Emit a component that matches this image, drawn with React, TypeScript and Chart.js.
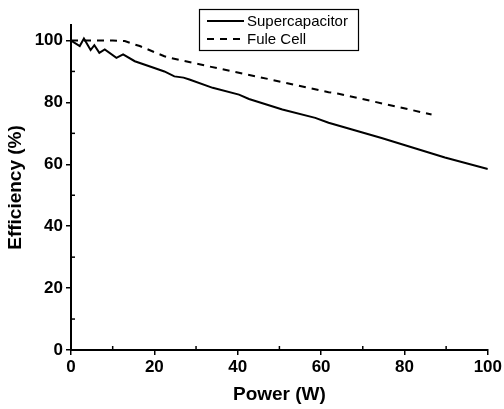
import React, { useEffect, useRef } from "react";
import { Chart, registerables } from "chart.js";

Chart.register(...registerables);

const superPower = [0, 2.1, 3.1, 4.7, 5.6, 6.8, 8.1, 10.9, 12.5, 15.3, 20, 22.4, 24.8, 27, 28.4, 34, 40.3, 42.7, 50.7, 58.6, 61.8, 74.5, 89.7, 100];
const superEff = [100, 98.2, 100.6, 96.9, 98.5, 96.0, 97.1, 94.4, 95.5, 93.3, 91.1, 90.0, 88.4, 88.0, 87.4, 84.7, 82.5, 81.1, 77.7, 75.0, 73.4, 68.5, 62.2, 58.5];

const fuelPower = [0, 5, 10, 12.9, 15.3, 16.5, 22.4, 23.6, 30.8, 35.6, 41.9, 47.5, 61.8, 64.2, 86.5];
const fuelEff = [100, 100, 100, 99.8, 98.7, 98.2, 94.9, 94.4, 92.3, 90.9, 89.1, 87.5, 83.3, 82.8, 76.1];

const seriesLabels = ["Supercapacitor", "Fule Cell"];
const xTitle = "Power (W)";
const yTitle = "Efficiency (%)";
const minorTicks = [10, 30, 50, 70, 90];

const FONT = "'Liberation Sans', Arial, Helvetica, sans-serif";

const minorTickPlugin = {
  id: "minorTicks",
  afterDraw(chart: any) {
    const { ctx, chartArea, scales } = chart;
    ctx.save();
    ctx.strokeStyle = "#000";
    ctx.lineWidth = 1.5;
    for (const v of minorTicks) {
      const py = scales.y.getPixelForValue(v);
      ctx.beginPath();
      ctx.moveTo(chartArea.left, py);
      ctx.lineTo(chartArea.left + 4, py);
      ctx.stroke();
      const px = scales.x.getPixelForValue(v);
      ctx.beginPath();
      ctx.moveTo(px, chartArea.bottom);
      ctx.lineTo(px, chartArea.bottom - 4);
      ctx.stroke();
    }
    ctx.restore();
  },
};

const boxLegendPlugin = {
  id: "boxLegend",
  afterDraw(chart: any) {
    const { ctx } = chart;
    const left = 199, top = 9, right = 358, bottom = 50;
    ctx.save();
    ctx.strokeStyle = "#000";
    ctx.lineWidth = 1.2;
    ctx.setLineDash([]);
    ctx.strokeRect(left + 0.5, top + 0.5, right - left, bottom - top);
    const rows = [21, 39];
    chart.data.datasets.forEach((ds: any, i: number) => {
      const y = rows[i];
      ctx.beginPath();
      ctx.lineWidth = 2;
      ctx.setLineDash(ds.borderDash || []);
      ctx.moveTo(207, y);
      ctx.lineTo(244, y);
      ctx.stroke();
      ctx.setLineDash([]);
      ctx.fillStyle = "#000";
      ctx.font = `15px ${FONT}`;
      ctx.textBaseline = "middle";
      ctx.textAlign = "left";
      ctx.fillText(ds.label, 247, y + 1);
    });
    ctx.restore();
  },
};

export default function App() {
  const ref = useRef<HTMLCanvasElement | null>(null);

  useEffect(() => {
    if (!ref.current) return;
    Chart.defaults.font.family = FONT;
    const chart = new Chart(ref.current, {
      type: "line",
      data: {
        datasets: [
          {
            label: seriesLabels[0],
            data: superPower.map((x, i) => ({ x, y: superEff[i] })),
            borderColor: "#000",
            borderWidth: 2,
            pointRadius: 0,
            tension: 0,
            fill: false,
          },
          {
            label: seriesLabels[1],
            data: fuelPower.map((x, i) => ({ x, y: fuelEff[i] })),
            borderColor: "#000",
            borderWidth: 2,
            borderDash: [7, 6],
            pointRadius: 0,
            tension: 0,
            fill: false,
          },
        ],
      },
      options: {
        animation: false,
        responsive: false,
        maintainAspectRatio: false,
        layout: { padding: { top: 25, right: 14, left: 0, bottom: 0 } },
        plugins: {
          legend: { display: false },
          tooltip: { enabled: false },
        },
        scales: {
          x: {
            type: "linear",
            min: 0,
            max: 100,
            afterFit: (s: any) => {
              s.height = 59;
            },
            ticks: {
              stepSize: 20,
              color: "#000",
              padding: 2,
              font: { size: 17, weight: "bold", family: FONT },
              maxRotation: 0,
            },
            grid: {
              display: true,
              drawOnChartArea: false,
              drawTicks: true,
              tickLength: 5,
              color: "#000",
              lineWidth: 1.5,
            },
            border: { display: true, color: "#000", width: 2 },
            title: {
              display: true,
              text: xTitle,
              color: "#000",
              font: { size: 19, weight: "bold", family: FONT },
              padding: { top: 0, bottom: 3 },
            },
          },
          y: {
            type: "linear",
            min: 0,
            max: 105,
            afterFit: (s: any) => {
              s.width = 71;
            },
            ticks: {
              stepSize: 20,
              includeBounds: false,
              color: "#000",
              padding: 3,
              font: { size: 17, weight: "bold", family: FONT },
            },
            grid: {
              display: true,
              drawOnChartArea: false,
              drawTicks: true,
              tickLength: 5,
              color: "#000",
              lineWidth: 1.5,
            },
            border: { display: true, color: "#000", width: 2 },
            title: {
              display: true,
              text: yTitle,
              color: "#000",
              font: { size: 19, weight: "bold", family: FONT },
              padding: { top: 4, bottom: 0 },
            },
          },
        },
      },
      plugins: [minorTickPlugin, boxLegendPlugin],
    } as any);
    return () => chart.destroy();
  }, []);

  return (
    <div style={{ position: "absolute", left: 0, top: 0, width: 504, height: 409, background: "#fff" }}>
      <canvas ref={ref} width={504} height={409} style={{ display: "block" }} />
    </div>
  );
}
